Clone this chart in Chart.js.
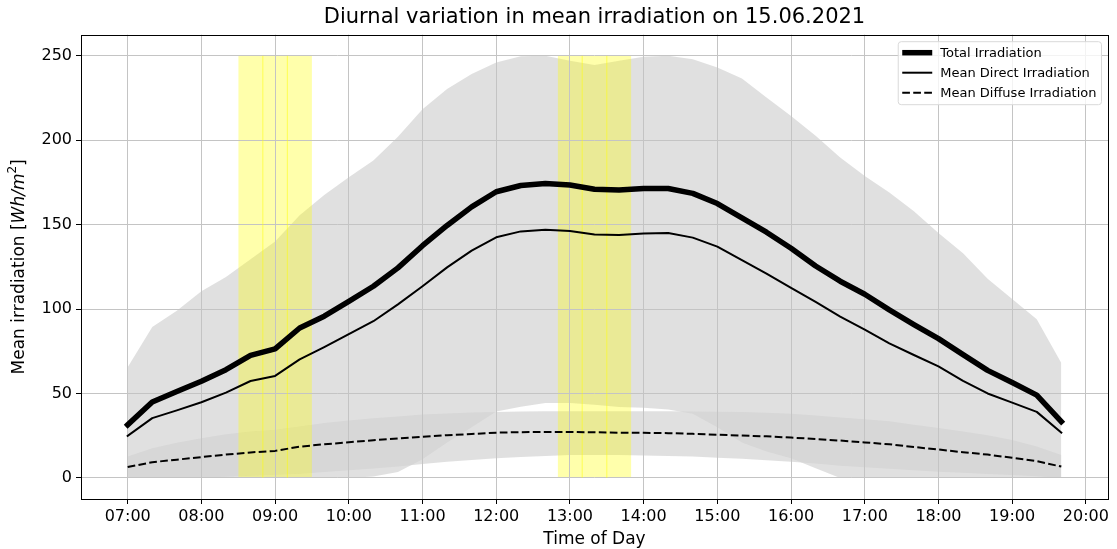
<!DOCTYPE html>
<html>
<head>
<meta charset="utf-8">
<title>Diurnal variation in mean irradiation</title>
<script src="https://cdn.jsdelivr.net/npm/chart.js@4.4.1/dist/chart.umd.min.js"></script>
<style>
  html, body { margin: 0; padding: 0; background: #fff; }
  #wrap { width: 1117px; height: 549px; }
</style>
</head>
<body>
<div id="wrap"><canvas id="line-chart"></canvas></div>
<script>
// 20 minute slots of the day
var times = ['07:00','07:20','07:40','08:00','08:20','08:40','09:00','09:20','09:40','10:00',
             '10:20','10:40','11:00','11:20','11:40','12:00','12:20','12:40','13:00','13:20',
             '13:40','14:00','14:20','14:40','15:00','15:20','15:40','16:00','16:20','16:40',
             '17:00','17:20','17:40','18:00','18:20','18:40','19:00','19:20','19:40'];

var totalMean = [31.4, 44.9, 51.2, 57.2, 64.1, 72.6, 76.4, 88.8, 95.8, 104.5,
                 113.5, 124.4, 137.5, 149.5, 160.5, 169.5, 173.2, 174.3, 173.5, 171.0,
                 170.5, 171.4, 171.4, 168.5, 162.5, 154.0, 145.5, 136.0, 125.5, 116.5,
                 108.8, 99.5, 90.8, 82.5, 73.0, 63.7, 56.5, 49.0, 33.4];
var directMean = [24.9, 35.4, 40.0, 44.8, 50.5, 57.4, 60.4, 70.2, 77.5, 85.2,
                  92.8, 102.8, 113.5, 124.7, 134.6, 142.5, 146.0, 147.0, 146.2, 144.1,
                  143.8, 144.7, 145.0, 142.3, 137.0, 129.0, 121.0, 112.5, 104.2, 95.5,
                  87.8, 79.7, 72.8, 66.0, 57.5, 50.0, 44.6, 39.1, 26.8];
var diffuseMean = [6.4, 9.3, 10.8, 12.3, 13.8, 15.1, 16.0, 18.5, 19.9, 21.1,
                   22.3, 23.4, 24.3, 25.3, 26.0, 26.8, 27.1, 27.2, 27.2, 27.0,
                   26.8, 26.7, 26.5, 26.1, 25.6, 25.1, 24.6, 23.9, 23.0, 22.1,
                   21.0, 19.9, 18.3, 16.8, 15.2, 13.8, 11.9, 9.9, 6.7];

// spread of the total and the diffuse part
var totalMax = [65.5, 89.4, 99.0, 110.5, 119.0, 129.5, 140.0, 155.5, 167.5, 178.0,
                188.0, 202.0, 218.4, 230.3, 239.2, 246.1, 249.7, 250.0, 247.0, 244.5,
                247.0, 249.4, 250.0, 248.0, 243.0, 236.5, 225.3, 214.4, 202.6, 189.7,
                178.8, 169.0, 158.0, 145.0, 133.0, 118.0, 106.0, 94.0, 68.0];
var totalMin = [0, 0, 0, 0, 0, 0, 0, 0, 0, 0,
                0.8, 3.5, 11.0, 21.0, 30.0, 39.3, 42.2, 44.3, 44.3, 43.3,
                42.0, 41.5, 40.5, 38.0, 30.0, 21.0, 15.6, 11.7, 5.7, 0,
                0, 0, 0, 0, 0, 0, 0, 0, 0];
var diffuseMax = [12.7, 17.6, 20.8, 23.5, 25.8, 27.5, 28.5, 30.5, 32.5, 34.0,
                  35.4, 36.4, 37.5, 38.2, 38.7, 39.0, 39.3, 39.4, 39.4, 39.4,
                  39.4, 39.4, 39.4, 39.3, 39.2, 39.0, 38.6, 38.0, 37.0, 35.8,
                  34.8, 33.5, 31.5, 29.5, 27.5, 25.2, 22.5, 18.6, 13.6];
var diffuseMin = [0, 0, 0, 0.3, 0.7, 1.2, 1.8, 2.5, 3.5, 4.6,
                  5.6, 6.8, 8.3, 9.5, 10.6, 11.7, 12.4, 13.0, 13.5, 13.6,
                  13.5, 13.3, 13.0, 12.6, 12.0, 11.3, 10.5, 9.5, 8.5, 7.2,
                  6.3, 5.4, 4.5, 3.7, 3.0, 2.3, 1.7, 1.0, 0];

// highlighted periods, each split into 20 minute slots
var highlightSlots = [['08:30', '08:50', '09:10', '09:30'],
                      ['12:50', '13:10', '13:30', '13:50']];
var highlightTop = 250;

var hourTicks = ['07:00','08:00','09:00','10:00','11:00','12:00','13:00',
                 '14:00','15:00','16:00','17:00','18:00','19:00','20:00'];
var yTicks = [0, 50, 100, 150, 200, 250];

function toHours(s) {
  var p = s.split(':');
  return Number(p[0]) + Number(p[1]) / 60;
}

function points(values) {
  return values.map(function(v, i) { return {x: toHours(times[i]), y: v}; });
}

var FONT = 'DejaVu Sans';
Chart.defaults.font.family = FONT;
Chart.defaults.color = '#000';

var hidden = 'rgba(0,0,0,0)';
var datasets = [
  { label: 'Total Irradiation', data: points(totalMean), borderColor: '#000',
    borderWidth: 5.5, borderCapStyle: 'square', fill: false },
  { label: 'Mean Direct Irradiation', data: points(directMean), borderColor: '#000',
    borderWidth: 2, borderCapStyle: 'square', fill: false },
  { label: 'Mean Diffuse Irradiation', data: points(diffuseMean), borderColor: '#000',
    borderWidth: 2, borderDash: [7.7, 3.3], fill: false }
];

// thin seams between the slots of a highlighted period
highlightSlots.forEach(function(slots) {
  slots.slice(1, -1).forEach(function(s) {
    datasets.push({ data: [{x: toHours(s), y: 0}, {x: toHours(s), y: highlightTop}],
      borderColor: 'rgba(255,255,0,0.45)', borderWidth: 1.2, fill: false });
  });
});
highlightSlots.forEach(function(slots) {
  datasets.push({ data: [{x: toHours(slots[0]), y: highlightTop},
                         {x: toHours(slots[slots.length - 1]), y: highlightTop}],
    borderColor: hidden, borderWidth: 0, fill: 'origin',
    backgroundColor: 'rgba(255,255,0,0.33)' });
});

// min/max bands
[[totalMax, totalMin], [diffuseMax, diffuseMin]].forEach(function(band) {
  datasets.push({ data: points(band[0]), borderColor: hidden, borderWidth: 0,
    fill: '+1', backgroundColor: 'rgba(211,211,211,0.7)' });
  datasets.push({ data: points(band[1]), borderColor: hidden, borderWidth: 0, fill: false });
});

var xMin = toHours(times[0]), xMax = toHours(times[times.length - 1]);
var xPad = (xMax - xMin) * 0.05;

var framePlugin = {
  id: 'frame',
  afterDraw: function(chart) {
    var ctx = chart.ctx, a = chart.chartArea;
    ctx.save();

    // axes frame
    ctx.strokeStyle = '#000';
    ctx.lineWidth = 1;
    ctx.strokeRect(Math.round(a.left) + 0.5, Math.round(a.top) + 0.5,
                   Math.round(a.right - a.left), Math.round(a.bottom - a.top));

    // y axis title with italic unit
    var parts = [
      {text: 'Mean irradiation [', font: '17px "' + FONT + '"', dy: 0},
      {text: 'Wh/m', font: 'italic 17px "' + FONT + '"', dy: 0},
      {text: '2', font: '12px "' + FONT + '"', dy: -7},
      {text: ']', font: '17px "' + FONT + '"', dy: 0}
    ];
    var total = 0;
    parts.forEach(function(p) { ctx.font = p.font; p.w = ctx.measureText(p.text).width; total += p.w; });
    ctx.translate(20, (a.top + a.bottom) / 2);
    ctx.rotate(-Math.PI / 2);
    ctx.fillStyle = '#000';
    ctx.textBaseline = 'middle';
    ctx.textAlign = 'left';
    var x = -total / 2;
    parts.forEach(function(p) { ctx.font = p.font; ctx.fillText(p.text, x, p.dy); x += p.w; });
    ctx.restore();

    // legend box in the upper right corner
    var items = chart.data.datasets.slice(0, 3);
    ctx.save();
    ctx.font = '13px "' + FONT + '"';
    var textW = 0;
    items.forEach(function(d) { textW = Math.max(textW, ctx.measureText(d.label).width); });
    var right = a.right - 6.5, top = a.top + 7, h = 63;
    var left = right - (42 + textW + 5);
    ctx.beginPath();
    ctx.roundRect(left, top, right - left, h, 3);
    ctx.fillStyle = 'rgba(255,255,255,0.8)';
    ctx.fill();
    ctx.strokeStyle = '#d9d9d9';
    ctx.lineWidth = 1;
    ctx.stroke();
    items.forEach(function(d, i) {
      var y = top + 11 + i * 20;
      ctx.beginPath();
      ctx.setLineDash(d.borderDash || []);
      ctx.lineWidth = d.borderWidth;
      ctx.strokeStyle = d.borderColor;
      ctx.moveTo(left + 4, y);
      ctx.lineTo(left + 34, y);
      ctx.stroke();
      ctx.setLineDash([]);
      ctx.fillStyle = '#000';
      ctx.textBaseline = 'middle';
      ctx.fillText(d.label, left + 42, y + 0.5);
    });
    ctx.restore();
  }
};

var config = {
  type: 'line',
  data: { datasets: datasets },
  options: {
    responsive: true,
    maintainAspectRatio: false,
    animation: false,
    layout: { padding: { left: 0, right: 9, top: 0, bottom: 0 } },
    elements: { point: { radius: 0, hoverRadius: 0 }, line: { tension: 0, borderJoinStyle: 'round' } },
    plugins: {
      legend: { display: false },
      tooltip: { enabled: false },
      filler: { drawTime: 'beforeDraw' },
      title: {
        display: true,
        fullSize: false,
        text: 'Diurnal variation in mean irradiation on 15.06.2021',
        font: { size: 21, weight: 'normal' },
        color: '#000',
        padding: { top: 5, bottom: 4.5 }
      }
    },
    scales: {
      x: {
        type: 'linear',
        min: xMin - xPad,
        max: xMax + xPad,
        afterBuildTicks: function(scale) {
          scale.ticks = hourTicks.map(function(s) { return {value: toHours(s)}; });
        },
        afterFit: function(scale) { scale.height = 50; },
        ticks: {
          autoSkip: false, maxRotation: 0, padding: 3,
          font: { size: 16 }, color: '#000',
          callback: function(value, index) { return hourTicks[index]; }
        },
        grid: { color: '#c4c4c4', lineWidth: 1, tickColor: '#000', tickLength: 5 },
        border: { display: false },
        title: { display: true, text: 'Time of Day', color: '#000',
                 font: { size: 17, lineHeight: 1 }, padding: { top: 0, bottom: 1 } }
      },
      y: {
        min: -12.5,
        max: 262.5,
        afterBuildTicks: function(scale) {
          scale.ticks = yTicks.map(function(v) { return {value: v}; });
        },
        afterFit: function(scale) { scale.width = 81; },
        ticks: { padding: 4, font: { size: 16 }, color: '#000' },
        grid: { color: '#c4c4c4', lineWidth: 1, tickColor: '#000', tickLength: 5 },
        border: { display: false }
      }
    }
  },
  plugins: [framePlugin]
};

var ctx = document.getElementById('line-chart').getContext('2d');
var mychart = new Chart(ctx, config);
</script>
</body>
</html>
